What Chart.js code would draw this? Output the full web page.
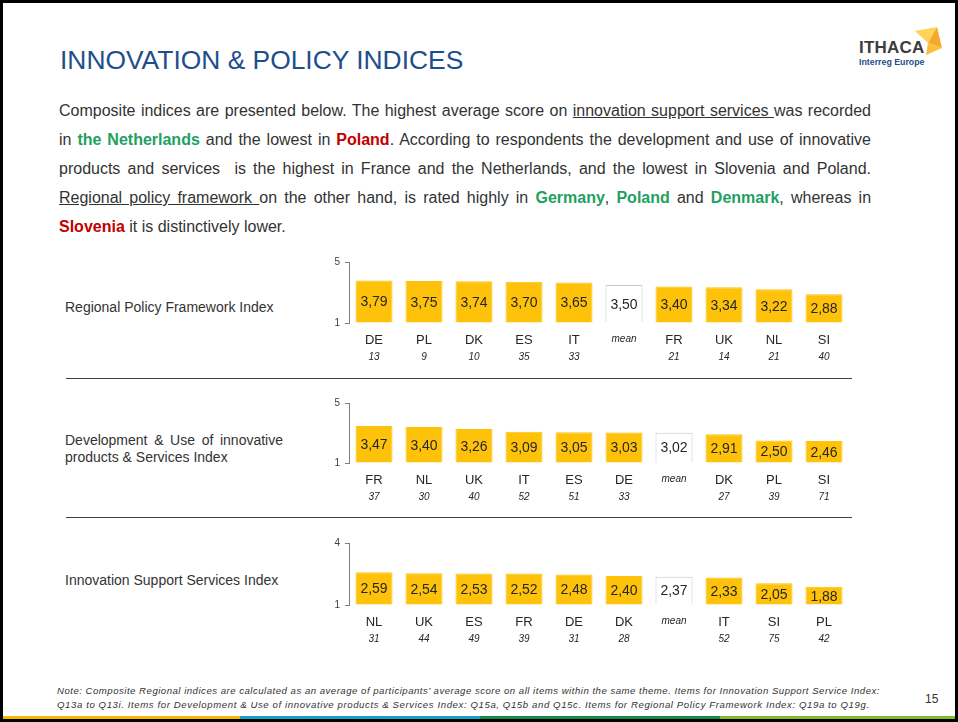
<!DOCTYPE html>
<html>
<head>
<meta charset="utf-8">
<script src="https://cdn.jsdelivr.net/npm/chart.js@4"></script>
<style>
  html,body{margin:0;padding:0;background:#fff;}
  body{width:958px;height:722px;position:relative;overflow:hidden;font-family:"Liberation Sans",Arial,sans-serif;color:#333;}
  .frame{position:absolute;left:0;top:0;width:958px;height:722px;box-sizing:border-box;border:3px solid #000;pointer-events:none;z-index:5;}
  .title{position:absolute;left:60px;top:44px;font-size:26.4px;color:#1f4e8c;white-space:nowrap;line-height:32px;}
  .body{position:absolute;left:59px;top:96px;width:812px;font-size:16px;line-height:29px;color:#333;}
  .body .j{text-align:justify;text-align-last:justify;}
  .g{color:#22a061;font-weight:bold;}
  .r{color:#c00000;font-weight:bold;}
  .u{text-decoration:underline;}
  .lab{position:absolute;left:65px;font-size:14px;line-height:17px;color:#333;}
  .sep{position:absolute;left:66px;width:786px;height:1px;background:#404040;}
  canvas{position:absolute;}
  .note{position:absolute;left:57px;top:684px;font-size:9.6px;font-style:italic;line-height:14px;color:#333;letter-spacing:0.5px;white-space:nowrap;}
  .pg{position:absolute;left:925px;top:692px;font-size:12px;color:#333;}
  .stripe{position:absolute;top:716px;height:3px;width:240px;}
  .logo1{position:absolute;left:859px;top:38px;font-size:17px;font-weight:bold;color:#3c3c3c;letter-spacing:0.2px;}
  .logo2{position:absolute;left:859px;top:57px;font-size:8.8px;font-weight:bold;color:#1f4e8c;}
</style>
</head>
<body>
<div class="title">INNOVATION &amp; POLICY INDICES</div>
<div class="logo1">ITHACA</div>
<div class="logo2">Interreg Europe</div>
<svg style="position:absolute;left:900px;top:22px" width="50" height="40" viewBox="900 22 50 40">
  <polygon points="915,31 937,27 928,43" fill="#ffd25a"/>
  <polygon points="937,27 942,48 928,43" fill="#f6a92a"/>
  <polygon points="928,43 942,48 926,55" fill="#fbbf3a"/>
</svg>

<div class="body">
  <div class="j">Composite indices are presented below. The highest average score on <span class="u">innovation support services </span>was recorded</div>
  <div class="j">in <span class="g">the Netherlands</span> and the lowest in <span class="r">Poland</span>. According to respondents the development and use of innovative</div>
  <div class="j">products and services &nbsp;is the highest in France and the Netherlands, and the lowest in Slovenia and Poland.</div>
  <div class="j"><span class="u">Regional policy framework </span>on the other hand, is rated highly in <span class="g">Germany</span>, <span class="g">Poland</span> and <span class="g">Denmark</span>, whereas in</div>
  <div><span class="r">Slovenia</span> it is distinctively lower.</div>
</div>

<div class="lab" style="top:299px;">Regional Policy Framework Index</div>
<div class="lab" style="top:432px;width:218px;text-align:justify;">Development &amp; Use of innovative products &amp; Services Index</div>
<div class="lab" style="top:572px;">Innovation Support Services Index</div>

<div class="sep" style="top:378px;"></div>
<div class="sep" style="top:517px;"></div>

<canvas id="c1" width="560" height="116" style="left:300px;top:250px;width:560px;height:116px;"></canvas>
<canvas id="c2" width="560" height="115" style="left:300px;top:391px;width:560px;height:115px;"></canvas>
<canvas id="c3" width="560" height="117" style="left:300px;top:531px;width:560px;height:117px;"></canvas>

<div class="note">
  <div>Note: Composite Regional indices are calculated as an average of participants’ average score on all items within the same theme. Items for Innovation Support Service Index:</div>
  <div style="letter-spacing:0.6px;">Q13a to Q13i. Items for Development &amp; Use of innovative products &amp; Services Index: Q15a, Q15b and Q15c. Items for Regional Policy Framework Index: Q19a to Q19g.</div>
</div>
<div class="pg">15</div>

<div class="stripe" style="left:0;background:#f6b800;"></div>
<div class="stripe" style="left:240px;background:#17a2c8;"></div>
<div class="stripe" style="left:480px;background:#178c4a;"></div>
<div class="stripe" style="left:720px;width:238px;background:#84bd2c;"></div>
<div class="frame"></div>

<script>
// ---- Data ----
const rpfCountries = ['DE','PL','DK','ES','IT','mean','FR','UK','NL','SI'];
const rpfValues    = [3.79,3.75,3.74,3.70,3.65,3.50,3.40,3.34,3.22,2.88];
const rpfCounts    = ['13','9','10','35','33','','21','14','21','40'];
const rpfTicks     = [1,5];

const devCountries = ['FR','NL','UK','IT','ES','DE','mean','DK','PL','SI'];
const devValues    = [3.47,3.40,3.26,3.09,3.05,3.03,3.02,2.91,2.50,2.46];
const devCounts    = ['37','30','40','52','51','33','','27','39','71'];
const devTicks     = [1,5];

const issCountries = ['NL','UK','ES','FR','DE','DK','mean','IT','SI','PL'];
const issValues    = [2.59,2.54,2.53,2.52,2.48,2.40,2.37,2.33,2.05,1.88];
const issCounts    = ['31','44','49','39','31','28','','52','75','42'];
const issTicks     = [1,4];

const FONT = '"Liberation Sans", Arial, sans-serif';
const GOLD = '#ffc20a';

const valueLabels = {
  id: 'valueLabels',
  afterDatasetsDraw(chart) {
    const ctx = chart.ctx;
    const meta = chart.getDatasetMeta(0);
    const data = chart.data.datasets[0].data;
    ctx.save();
    ctx.font = '14px ' + FONT;
    ctx.fillStyle = '#262626';
    ctx.textAlign = 'center';
    ctx.textBaseline = 'middle';
    meta.data.forEach((el, i) => {
      const txt = data[i].toFixed(2).replace('.', ',');
      ctx.fillText(txt, el.x, (el.y + el.base) / 2 + 1);
    });
    ctx.restore();
  }
};

function makeChart(id, cats, vals, counts, ticks) {
  const meanIdx = cats.indexOf('mean');
  new Chart(document.getElementById(id), {
    type: 'bar',
    data: {
      labels: cats,
      datasets: [{
        data: vals,
        base: ticks[0],
        backgroundColor: cats.map(c => c === 'mean' ? '#ffffff' : GOLD),
        borderColor: cats.map(c => c === 'mean' ? '#c8c8c8' : GOLD),
        borderWidth: 1,
        barPercentage: 0.74,
        categoryPercentage: 1.0
      }]
    },
    options: {
      responsive: false,
      animation: false,
      events: [],
      layout: { padding: { top: 12, right: 11, left: 0, bottom: 0 } },
      plugins: { legend: { display: false }, tooltip: { enabled: false } },
      scales: {
        y: {
          min: ticks[0], max: ticks[1],
          afterFit(s) { s.width = 49; },
          afterBuildTicks(s) { s.ticks = ticks.map(v => ({ value: v })); },
          grid: { display: true, drawOnChartArea: false, drawTicks: true, tickLength: 4, color: '#7f7f7f' },
          border: { display: true, color: '#7f7f7f', width: 1 },
          ticks: { padding: 5, color: '#404040', font: { family: FONT, size: 10 } }
        },
        x: {
          weight: 0,
          afterFit(s) { s.height = 25; },
          grid: { display: false, drawTicks: false },
          border: { display: false },
          ticks: {
            padding: 10,
            color: '#262626',
            maxRotation: 0, autoSkip: false,
            font: (c) => c.index === meanIdx
              ? { family: FONT, size: 10, style: 'italic' }
              : { family: FONT, size: 13 }
          }
        },
        x2: {
          type: 'category',
          position: 'bottom',
          labels: counts,
          offset: true,
          weight: 1,
          afterFit(s) { s.height = 18; },
          grid: { display: false, drawTicks: false },
          border: { display: false },
          ticks: { padding: 3, color: '#262626', maxRotation: 0, autoSkip: false,
                   font: { family: FONT, size: 10, style: 'italic' } }
        }
      }
    },
    plugins: [valueLabels]
  });
}

makeChart('c1', rpfCountries, rpfValues, rpfCounts, rpfTicks);
makeChart('c2', devCountries, devValues, devCounts, devTicks);
makeChart('c3', issCountries, issValues, issCounts, issTicks);
</script>
</body>
</html>
